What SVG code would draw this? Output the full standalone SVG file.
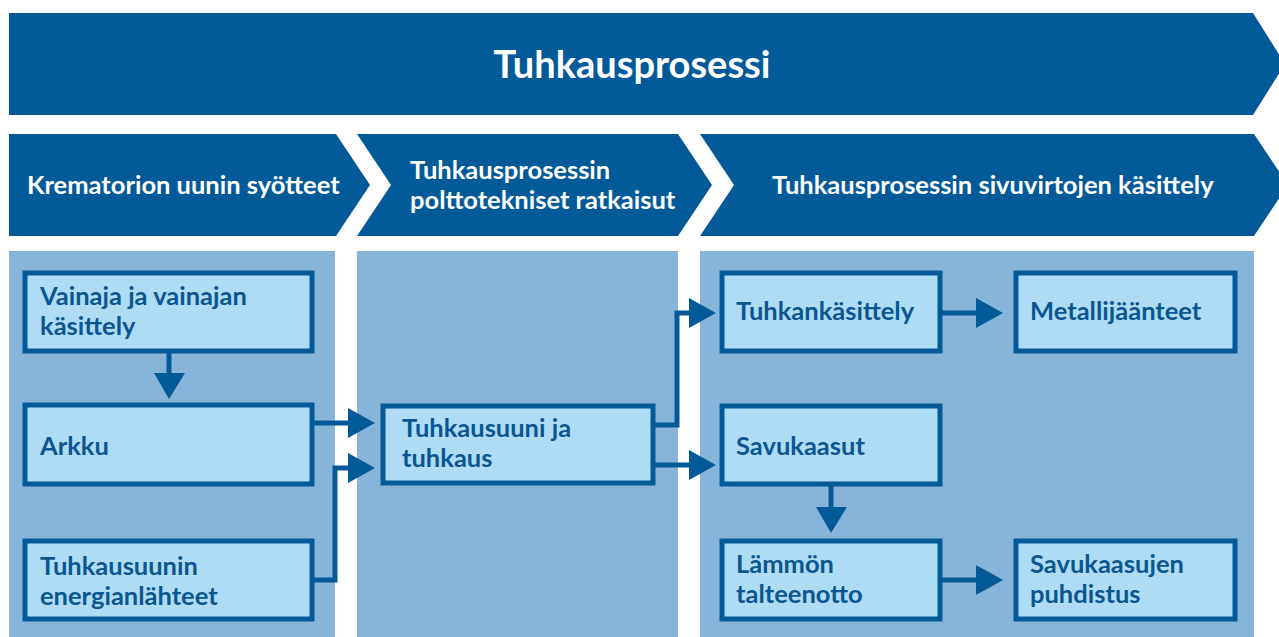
<svg xmlns="http://www.w3.org/2000/svg" width="1279" height="637" viewBox="0 0 1279 637">
<style>
.band{fill:#035a98}
.panel{fill:#87b5d9}
.box rect{fill:#aedcf4;stroke:#035a98;stroke-width:5}
.box text{font-family:Lato,"Open Sans",sans-serif;font-weight:700;font-size:25.5px;fill:#0a5690}
.hd{font-family:Lato,"Open Sans",sans-serif;font-weight:700;font-size:25.5px;fill:#ffffff}
.ttl{font-family:Lato,"Open Sans",sans-serif;font-weight:700;font-size:38px;fill:#ffffff}
.conn path.l{fill:none;stroke:#035a98;stroke-width:5}
.conn path.h{fill:#035a98}
</style>
<rect width="1279" height="637" fill="#ffffff"/>
<g id="banner">
<polygon class="band" points="9,13 1253,13 1285,64 1253,115 9,115"/>
<text class="ttl" x="632" y="78" text-anchor="middle">Tuhkausprosessi</text>
</g>
<g id="phase1">
<polygon class="band" points="9,134 336,134 370,185 336,236 9,236"/>
<text class="hd" x="27" y="194">Krematorion uunin syötteet</text>
</g>
<g id="phase2">
<polygon class="band" points="357,134 678,134 712,185 678,236 357,236 391,185"/>
<text class="hd" x="410" y="179">Tuhkausprosessin</text>
<text class="hd" x="410" y="209">polttotekniset ratkaisut</text>
</g>
<g id="phase3">
<polygon class="band" points="700,134 1254,134 1288,185 1254,236 700,236 734,185"/>
<text class="hd" x="772" y="194">Tuhkausprosessin sivuvirtojen käsittely</text>
</g>
<g id="panels">
<rect class="panel" x="9" y="251" width="326" height="386"/>
<rect class="panel" x="357" y="251" width="321" height="386"/>
<rect class="panel" x="700" y="251" width="554" height="386"/>
</g>
<g id="n-vainaja" class="box">
<rect x="25" y="273" width="287" height="78"/>
<text x="40" y="305">Vainaja ja vainajan</text>
<text x="40" y="335">käsittely</text>
</g>
<g id="n-arkku" class="box">
<rect x="25" y="405" width="287" height="79"/>
<text x="40" y="455">Arkku</text>
</g>
<g id="n-energia" class="box">
<rect x="25" y="541" width="287" height="78"/>
<text x="40" y="575">Tuhkausuunin</text>
<text x="40" y="605">energianlähteet</text>
</g>
<g id="n-tuhkausuuni" class="box">
<rect x="383" y="406" width="270" height="77"/>
<text x="402" y="437">Tuhkausuuni ja</text>
<text x="402" y="467">tuhkaus</text>
</g>
<g id="n-tuhkan" class="box">
<rect x="722" y="273" width="218" height="78"/>
<text x="736" y="320">Tuhkankäsittely</text>
</g>
<g id="n-metalli" class="box">
<rect x="1016" y="273" width="219" height="78"/>
<text x="1030" y="320">Metallijäänteet</text>
</g>
<g id="n-savukaasut" class="box">
<rect x="722" y="406" width="218" height="78"/>
<text x="736" y="455">Savukaasut</text>
</g>
<g id="n-lammon" class="box">
<rect x="722" y="541" width="218" height="78"/>
<text x="736" y="573">Lämmön</text>
<text x="736" y="603">talteenotto</text>
</g>
<g id="n-puhdistus" class="box">
<rect x="1016" y="541" width="219" height="78"/>
<text x="1030" y="573">Savukaasujen</text>
<text x="1030" y="603">puhdistus</text>
</g>
<g id="connectors" class="conn">
<path class="l" d="M169,353 V376"/>
<path class="h" d="M154,373 H185 L169,399 Z"/>
<path class="l" d="M314,423 H351"/>
<path class="h" d="M348,408 V438 L375,423 Z"/>
<path class="l" d="M314,580 H335 V468 H351"/>
<path class="h" d="M348,453 V483 L375,468 Z"/>
<path class="l" d="M655,425 H677 V313 H692"/>
<path class="h" d="M689,298 V328 L716,313 Z"/>
<path class="l" d="M655,465 H692"/>
<path class="h" d="M689,450 V480 L716,465 Z"/>
<path class="l" d="M942,313 H979"/>
<path class="h" d="M976,298 V328 L1003,313 Z"/>
<path class="l" d="M831,486 V510"/>
<path class="h" d="M816,507 H847 L831,533 Z"/>
<path class="l" d="M942,580 H979"/>
<path class="h" d="M976,565 V595 L1003,580 Z"/>
</g>
</svg>
